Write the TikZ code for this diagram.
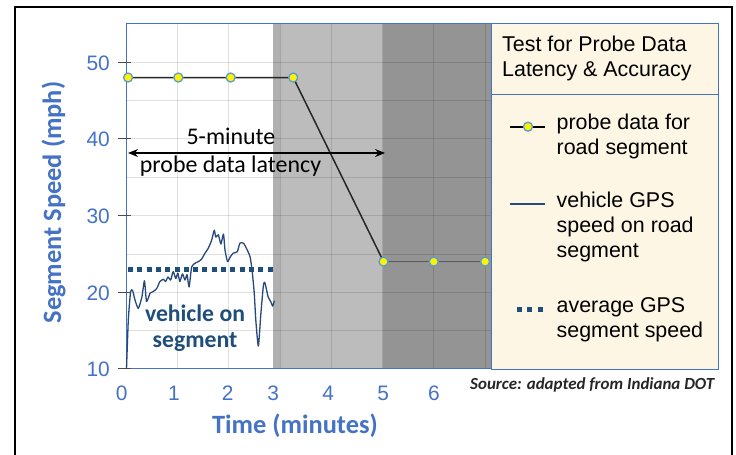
\documentclass[tikz,border=0pt]{standalone}
\usepackage{fontspec}
\setmainfont{Carlito}
\newfontfamily\arialf{Liberation Sans}
\usetikzlibrary{arrows.meta}
\definecolor{axblue}{RGB}{68,114,196}
\definecolor{gpsblue}{RGB}{38,72,122}
\definecolor{avgblue}{RGB}{31,78,121}
\definecolor{legbg}{RGB}{253,246,228}
\definecolor{mkedge}{RGB}{91,155,213}
\definecolor{shadeA}{RGB}{188,188,188}
\definecolor{shadeAedge}{RGB}{176,176,176}
\definecolor{shadeB}{RGB}{148,148,148}
\tikzset{
  mk/.style={circle, fill=yellow, draw=mkedge, line width=1.3bp, inner sep=0pt, minimum size=9bp},
  ytl/.style={anchor=base east, text=axblue, font=\arialf\fontsize{21}{24}\selectfont, inner sep=0pt},
  xtl/.style={anchor=base, text=axblue, font=\arialf\fontsize{21}{24}\selectfont, inner sep=0pt},
  legtxt/.style={anchor=base west, font=\arialf\fontsize{21.5}{24}\selectfont, inner sep=0pt},
  axtitle/.style={anchor=base, text=axblue, font=\bfseries\fontsize{26.5}{30}\selectfont, inner sep=0pt},
  notetxt/.style={anchor=base, font=\fontsize{24}{28}\selectfont, inner sep=0pt},
  vehtxt/.style={anchor=base, text=avgblue, font=\bfseries\fontsize{23.8}{28}\selectfont, inner sep=0pt},
  gridln/.style={black, opacity=0.12, line width=0.8bp},
  probeln/.style={black!85, line width=1.5bp},
  gpsln/.style={gpsblue, line width=1.3bp, line join=round},
  avgln/.style={avgblue, line width=5bp, dash pattern=on 5bp off 4.3bp}
}
\begin{document}
\begin{tikzpicture}[x=1bp,y=-1bp]
\useasboundingbox (0,0) rectangle (736,455);
\fill[white] (0,0) rectangle (736,455);
% outer frame
\draw[line width=1.5bp] (15,456) -- (15,7) -- (732,7) -- (732,456);

\begin{scope}[shift={(126,445.7)},x=51.3bp,y=7.67bp]
  % shaded regions
  \fill[shadeA] (2.86,10) rectangle (5,55);
  \fill[shadeAedge] (2.86,10) rectangle (3.0,55);
  \fill[shadeB] (5,10) rectangle (7.115,55);
  % grid
  \foreach \t in {1,...,7} \draw[gridln] (\t,10) -- (\t,55);
  \foreach \v in {15,20,...,50} \draw[gridln] (0,\v) -- (7.115,\v);
  % axes
  \draw[axblue, line width=1bp] (0,10) -- (0,55) -- (7.115,55);
  \draw[axblue, line width=1bp] (0,10) -- (7.115,10);
  \foreach \v in {10,20,...,50} \draw[black!70, line width=1bp] (-0.16,\v) -- (0.09,\v);
  % average GPS speed
  \coordinate (avgA) at (0.04,23);
  \coordinate (avgB) at (2.87,23);
  \draw[avgln] (avgA) -- (avgB);
  % vehicle GPS trace
  \draw[gpsln] plot[smooth, tension=0.35] coordinates {
   (0.01,10) (0.045,16.4) (0.09,20.1) (0.13,20.2) (0.175,19) (0.24,17.9) (0.31,19.4)
   (0.36,21.5) (0.40,18.8) (0.47,19.9) (0.53,20.1) (0.6,20.5) (0.66,21.4) (0.73,21.7)
   (0.77,21.4) (0.82,22.0) (0.87,21.6) (0.92,22.7) (0.97,21.8) (1.01,22.5) (1.05,21.4)
   (1.10,22.4) (1.15,21.6) (1.19,22.3) (1.23,20.7) (1.28,23.3) (1.35,23.8) (1.41,24.0)
   (1.47,24.3) (1.54,25.1) (1.60,25.7) (1.67,26.8) (1.72,28.1) (1.75,27.2) (1.80,27.5)
   (1.85,26.3) (1.90,27.6) (1.93,25.5) (1.98,24.0) (2.03,24.6) (2.09,25.1) (2.17,25.3)
   (2.22,26.4) (2.29,26.4) (2.35,25.7) (2.42,24.6) (2.46,22.7) (2.50,19.9) (2.53,16.4)
   (2.58,13.0) (2.63,17.3) (2.68,21.0) (2.71,21.2) (2.77,19.4) (2.82,18.8) (2.86,18.2)
   (2.89,18.9)};
  % probe data
  \coordinate (p0) at (0.04,48);
  \coordinate (p1) at (1.02,48);
  \coordinate (p2) at (2.04,48);
  \coordinate (p3) at (3.26,48);
  \coordinate (p4) at (5.02,24);
  \coordinate (p5) at (6.0,24);
  \coordinate (p6) at (7.0,24);
  \draw[probeln] (p0) -- (p1) -- (p2) -- (p3) -- (p4);
  \draw[probeln, black!65] (p4) -- (p5) -- (p6);
  \node[mk] (m0) at (p0) {};
  \node[mk] (m1) at (p1) {};
  \node[mk] (m2) at (p2) {};
  \node[mk] (m3) at (p3) {};
  \node[mk] (m4) at (p4) {};
  \node[mk] (m5) at (p5) {};
  \node[mk] (m6) at (p6) {};
  % latency arrow
  \coordinate (la) at (0.04,38.16);
  \coordinate (lb) at (5.05,38.16);
  \draw[line width=1.2bp, {Stealth[length=10bp,width=8bp]}-{Stealth[length=10bp,width=8bp]}] (la) -- (lb);
\end{scope}

% annotation texts
\node[notetxt] (n5) at (231,145) {5-minute};
\node[notetxt] (npl) at (230.5,173) {probe data latency};
\node[vehtxt] (veh1) at (195,321.7) {vehicle on};
\node[vehtxt] (veh2) at (195,348) {segment};

% tick labels
\node[ytl] (y50) at (110,70.7) {50};
\node[ytl] (y40) at (110,146.7) {40};
\node[ytl] (y30) at (110,224) {30};
\node[ytl] (y20) at (110,301) {20};
\node[ytl] (y10) at (110,376) {10};
\node[xtl] (x0) at (121.7,400) {0};
\node[xtl] (x1) at (174,400) {1};
\node[xtl] (x2) at (227.7,400) {2};
\node[xtl] (x3) at (273.3,400) {3};
\node[xtl] (x4) at (328.3,400) {4};
\node[xtl] (x5) at (383.3,400) {5};
\node[xtl] (x6) at (434,400) {6};

% axis titles
\node[axtitle] (xt) at (295,433) {Time (minutes)};
\node[axtitle, rotate=90] (yt) at (61,202.5) {Segment Speed (mph)};

% legend
\draw[axblue, fill=legbg, line width=1bp] (491,24) rectangle (718,369);
\draw[axblue, line width=1bp] (491,95) -- (718,95);
\node[legtxt] (lt1) at (502,51.5) {Test for Probe Data};
\node[legtxt] (lt2) at (502,77) {Latency \& Accuracy};

\coordinate (l1a) at (510,126.7);
\coordinate (l1b) at (545,126.7);
\draw[black, line width=1.8bp] (l1a) -- (l1b);
\node[mk] (l1m) at (528,126.7) {};
\node[legtxt] (e1a) at (556.5,130) {probe data for};
\node[legtxt] (e1b) at (556.5,155) {road segment};

\coordinate (l2a) at (510,204);
\coordinate (l2b) at (545,204);
\draw[gpsln] (l2a) -- (l2b);
\node[legtxt] (e2a) at (556.5,208) {vehicle GPS};
\node[legtxt] (e2b) at (556.5,233) {speed on road};
\node[legtxt] (e2c) at (556.5,258) {segment};

\coordinate (l3a) at (516.5,310);
\coordinate (l3b) at (546,310);
\draw[avgblue, line width=5bp, dash pattern=on 5bp off 5.5bp] (l3a) -- (l3b);
\node[legtxt] (e3a) at (556.5,313) {average GPS};
\node[legtxt] (e3b) at (556.5,338) {segment speed};

% source
\node[anchor=base west, inner sep=0pt, text=black!85, font=\bfseries\itshape\fontsize{17}{20}\selectfont] (src) at (470,389) {Source: adapted from Indiana DOT};
\end{tikzpicture}
\end{document}
